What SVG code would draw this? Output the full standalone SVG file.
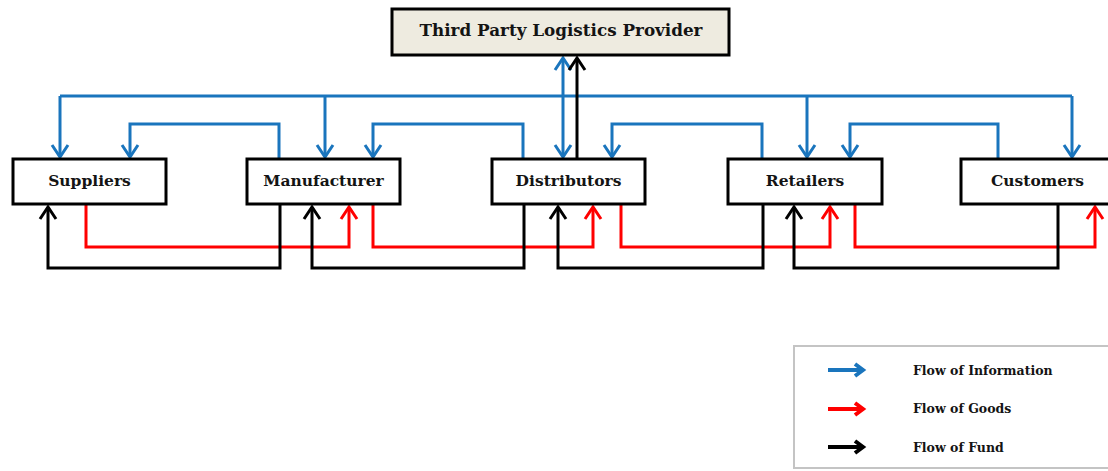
<svg xmlns="http://www.w3.org/2000/svg" width="1108" height="471" viewBox="0 0 1108 471">
  <style>
    .node rect { fill: #ffffff; stroke: #000000; stroke-width: 3; }
    .node.top rect { fill: #eeebe0; }
    .label { font-family: "DejaVu Serif", "Liberation Serif", serif; font-weight: bold; font-size: 15.5px; fill: #141414; text-anchor: middle; }
    .label.title { font-size: 16.8px; }
    .info { fill: none; stroke: #1a75bd; stroke-width: 3; stroke-linejoin: miter; }
    .goods { fill: none; stroke: #ff0000; stroke-width: 3; }
    .fund { fill: none; stroke: #000000; stroke-width: 3; }
    .legend-text { font-family: "DejaVu Serif", "Liberation Serif", serif; font-weight: bold; font-size: 12.5px; fill: #141414; }
  </style>
  <defs>
    <marker id="ah-blue" markerUnits="userSpaceOnUse" markerWidth="20" markerHeight="20" refX="0" refY="0" orient="auto-start-reverse" overflow="visible">
      <path d="M-12,-8 L0,0 L-12,8" fill="none" stroke="#1a75bd" stroke-width="3"/>
    </marker>
    <marker id="ah-red" markerUnits="userSpaceOnUse" markerWidth="20" markerHeight="20" refX="0" refY="0" orient="auto" overflow="visible">
      <path d="M-12,-8 L0,0 L-12,8" fill="none" stroke="#ff0000" stroke-width="3"/>
    </marker>
    <marker id="ah-black" markerUnits="userSpaceOnUse" markerWidth="20" markerHeight="20" refX="0" refY="0" orient="auto" overflow="visible">
      <path d="M-12,-8 L0,0 L-12,8" fill="none" stroke="#000000" stroke-width="3"/>
    </marker>
  </defs>

  <rect width="1108" height="471" fill="#ffffff"/>

  <!-- connectors -->
  <g id="connectors">
    <!-- information flow: broadcast bus -->
    <path class="info" d="M60,96 H1072"/>
    <path class="info" d="M60,96 V157" marker-end="url(#ah-blue)"/>
    <path class="info" d="M325,96 V157" marker-end="url(#ah-blue)"/>
    <path class="info" d="M807,96 V157" marker-end="url(#ah-blue)"/>
    <path class="info" d="M1072,96 V157" marker-end="url(#ah-blue)"/>
    <!-- information flow: upstream links -->
    <path class="info" d="M279,159 V124 H130 V157" marker-end="url(#ah-blue)"/>
    <path class="info" d="M523,159 V124 H373 V157" marker-end="url(#ah-blue)"/>
    <path class="info" d="M762,159 V124 H612 V157" marker-end="url(#ah-blue)"/>
    <path class="info" d="M998,159 V124 H850 V157" marker-end="url(#ah-blue)"/>
    <!-- information exchange with logistics provider -->
    <path class="info" d="M563,58 V157" marker-start="url(#ah-blue)" marker-end="url(#ah-blue)"/>
    <path class="fund" d="M577,159 V58" marker-end="url(#ah-black)"/>
    <!-- goods flow -->
    <path class="goods" d="M86,204 V247 H349 V207" marker-end="url(#ah-red)"/>
    <path class="goods" d="M373,204 V247 H593 V207" marker-end="url(#ah-red)"/>
    <path class="goods" d="M621,204 V247 H830 V207" marker-end="url(#ah-red)"/>
    <path class="goods" d="M855,204 V247 H1095 V207" marker-end="url(#ah-red)"/>
    <!-- fund flow -->
    <path class="fund" d="M280,204 V268 H48 V207" marker-end="url(#ah-black)"/>
    <path class="fund" d="M524,204 V268 H312 V207" marker-end="url(#ah-black)"/>
    <path class="fund" d="M763,204 V268 H558 V207" marker-end="url(#ah-black)"/>
    <path class="fund" d="M1058,204 V268 H794 V207" marker-end="url(#ah-black)"/>
  </g>

  <!-- nodes -->
  <g id="node-3pl" class="node top">
    <rect x="392" y="9" width="337" height="46"/>
    <text class="label title" x="561" y="35.5">Third Party Logistics Provider</text>
  </g>
  <g id="node-suppliers" class="node">
    <rect x="13" y="159" width="153" height="45"/>
    <text class="label" x="89.5" y="186">Suppliers</text>
  </g>
  <g id="node-manufacturer" class="node">
    <rect x="247" y="159" width="153" height="45"/>
    <text class="label" x="323.5" y="186">Manufacturer</text>
  </g>
  <g id="node-distributors" class="node">
    <rect x="492" y="159" width="153" height="45"/>
    <text class="label" x="568.5" y="186">Distributors</text>
  </g>
  <g id="node-retailers" class="node">
    <rect x="728" y="159" width="154" height="45"/>
    <text class="label" x="805" y="186">Retailers</text>
  </g>
  <g id="node-customers" class="node">
    <rect x="961" y="159" width="153" height="45"/>
    <text class="label" x="1037.5" y="186">Customers</text>
  </g>

  <!-- legend -->
  <g id="legend">
    <rect x="794" y="346" width="320" height="122" fill="#ffffff" stroke="#c4c4c4" stroke-width="2"/>
    <g stroke-width="4" fill="none">
      <path d="M828,370 H862" stroke="#1a75bd"/>
      <path d="M855,364 L863,370 L855,376" stroke="#1a75bd"/>
      <path d="M828,409 H862" stroke="#ff0000"/>
      <path d="M855,403 L863,409 L855,415" stroke="#ff0000"/>
      <path d="M828,447 H862" stroke="#000000"/>
      <path d="M855,441 L863,447 L855,453" stroke="#000000"/>
    </g>
    <text class="legend-text" x="913" y="375">Flow of Information</text>
    <text class="legend-text" x="913" y="413">Flow of Goods</text>
    <text class="legend-text" x="913" y="452">Flow of Fund</text>
  </g>
</svg>
